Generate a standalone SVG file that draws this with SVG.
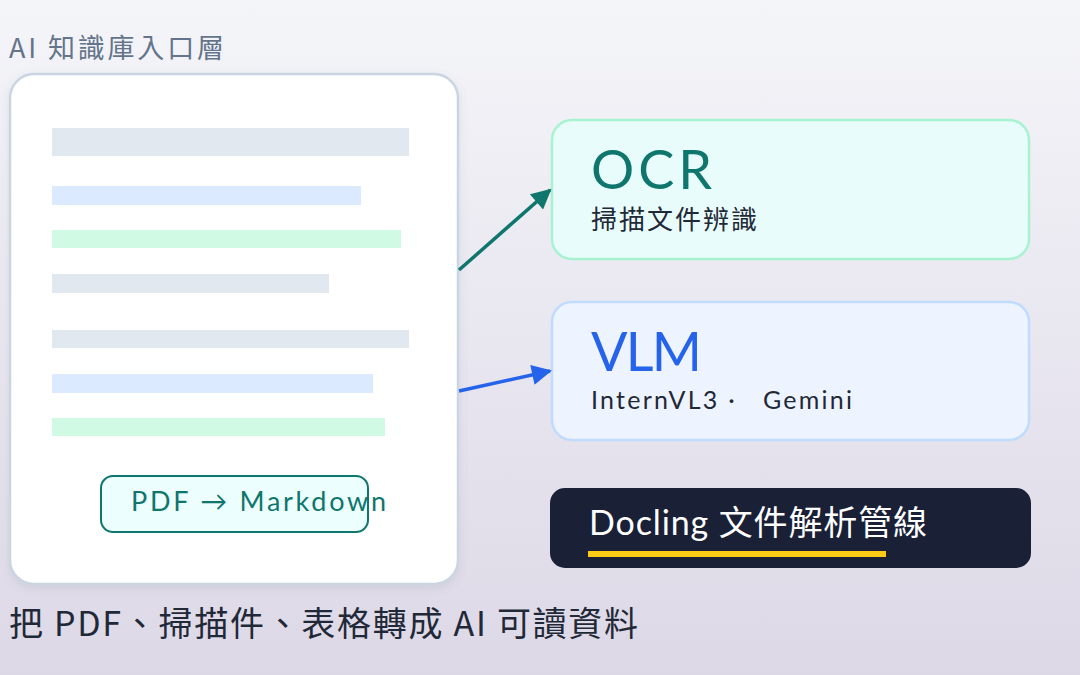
<svg xmlns="http://www.w3.org/2000/svg" width="1080" height="675" viewBox="0 0 1080 675">
<defs>
<linearGradient id="bg" x1="0" y1="0" x2="0" y2="1">
<stop offset="0" stop-color="#f4f5f9"/>
<stop offset="1" stop-color="#ddd8e6"/>
</linearGradient>
<filter id="sh" x="-10%" y="-10%" width="120%" height="120%">
<feDropShadow dx="0" dy="3" stdDeviation="4" flood-color="#64748b" flood-opacity="0.15"/>
</filter>
<marker id="aTeal" viewBox="0 0 10 10" refX="9" refY="5" markerWidth="24" markerHeight="20" markerUnits="userSpaceOnUse" orient="auto">
<path d="M0,0 L10,5 L0,10 z" fill="#0f766e"/>
</marker>
<marker id="aBlue" viewBox="0 0 10 10" refX="9" refY="5" markerWidth="24" markerHeight="20" markerUnits="userSpaceOnUse" orient="auto">
<path d="M0,0 L10,5 L0,10 z" fill="#2563eb"/>
</marker>
<style>
.lat{font-family:Lato,"Noto Sans","Noto Sans CJK TC",sans-serif}
.cjk{font-family:"Noto Sans CJK TC","Noto Sans",sans-serif}
.bar-g{fill:#e2e8f0}
.bar-b{fill:#dbeafe}
.bar-t{fill:#d1fae5}
</style>
</defs>
<rect width="1080" height="675" fill="url(#bg)"/>

<g id="title">
<text x="9" y="58" class="cjk" font-size="27" fill="#64748b" textLength="215" lengthAdjust="spacing">AI 知識庫入口層</text>
</g>

<g id="doc-card">
<rect x="10" y="74" width="448" height="510" rx="24" fill="#ffffff" stroke="#cbd5e1" stroke-width="2.5" filter="url(#sh)"/>
<rect class="bar-g" x="52" y="128" width="357" height="28"/>
<rect class="bar-b" x="52" y="186" width="309" height="19"/>
<rect class="bar-t" x="52" y="230" width="349" height="18"/>
<rect class="bar-g" x="52" y="274" width="277" height="19"/>
<rect class="bar-g" x="52" y="330" width="357" height="18"/>
<rect class="bar-b" x="52" y="374" width="321" height="19"/>
<rect class="bar-t" x="52" y="418" width="333" height="18"/>
</g>

<g id="pdf-badge">
<rect x="101" y="476" width="267" height="56" rx="12" fill="#ecfefd" stroke="#0f766e" stroke-width="2"/>
<text x="131" y="511" class="lat" font-size="27" fill="#0f766e" textLength="255" lengthAdjust="spacing">PDF → Markdown</text>
</g>

<g id="ocr">
<rect x="552" y="120" width="477" height="139" rx="20" fill="#e8fdfb" stroke="#a7f3d0" stroke-width="2.5"/>
<text x="591" y="189" class="lat" font-size="54" fill="#0f766e" textLength="121" lengthAdjust="spacing">OCR</text>
<text x="591" y="229" class="cjk" font-size="26" fill="#1f2937" textLength="166" lengthAdjust="spacing">掃描文件辨識</text>
</g>

<g id="vlm">
<rect x="552" y="302" width="477" height="138" rx="20" fill="#eef4ff" stroke="#bfdbfe" stroke-width="2.5"/>
<text x="591" y="371" class="lat" font-size="54" fill="#2563eb" textLength="111" lengthAdjust="spacing">VLM</text>
<text x="591" y="409" class="lat" font-size="25" fill="#1f2937" xml:space="preserve" textLength="261" lengthAdjust="spacing">InternVL3 ·   Gemini</text>
</g>

<g id="docling">
<rect x="550" y="488" width="481" height="80" rx="15" fill="#1a2036"/>
<text x="589" y="535" font-size="34" fill="#ffffff" textLength="338" lengthAdjust="spacing"><tspan class="lat">Docling </tspan><tspan class="cjk">文件解析管線</tspan></text>
<rect x="588" y="551" width="298" height="6" fill="#facc15"/>
</g>

<g id="connectors">
<line x1="459" y1="270" x2="550" y2="190" stroke="#0f766e" stroke-width="3.5" marker-end="url(#aTeal)"/>
<line x1="459" y1="391" x2="550" y2="371" stroke="#2563eb" stroke-width="3.5" marker-end="url(#aBlue)"/>
</g>

<g id="caption">
<text x="9" y="636" class="cjk" font-size="34" fill="#1f2937" textLength="629" lengthAdjust="spacing">把 PDF、掃描件、表格轉成 AI 可讀資料</text>
</g>
</svg>
